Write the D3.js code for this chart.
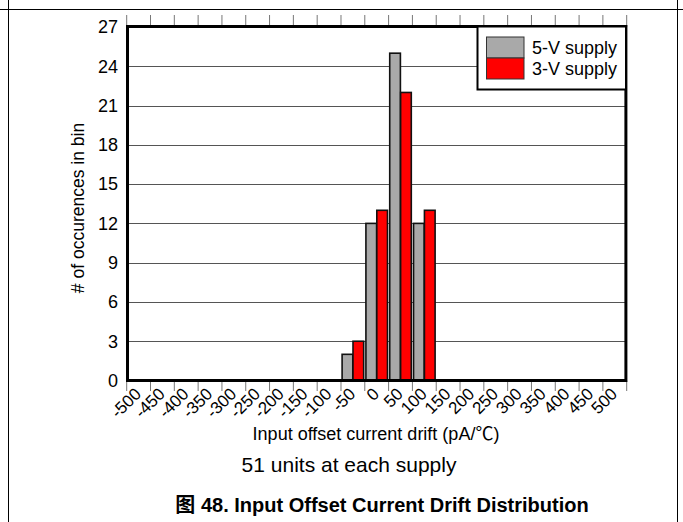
<!DOCTYPE html>
<html><head><meta charset="utf-8">
<script src="https://cdn.jsdelivr.net/npm/d3@7"></script>
<style>body{margin:0;background:#fff}</style>
</head><body>
<svg id="c" width="683" height="522"></svg>
<script>
const categories = [-500,-450,-400,-350,-300,-250,-200,-150,-100,-50,0,50,100,150,200,250,300,350,400,450,500];
const seriesNames = ["5-V supply","3-V supply"];
const supply5V = [0,0,0,0,0,0,0,0,0,2,12,25,12,0,0,0,0,0,0,0,0];
const supply3V = [0,0,0,0,0,0,0,0,0,3,13,22,13,0,0,0,0,0,0,0,0];
const yTicks = [0,3,6,9,12,15,18,21,24,27];
const seriesColors = ["#a9a9a9","#ff0000"];
const xTitle = "Input offset current drift (pA/\u2103)";
const yTitle = "# of occurences in bin";
const note = "51 units at each supply";
const caption = "\u56fe 48. Input Offset Current Drift Distribution";

const svg = d3.select("#c");
const font = "'Liberation Sans', Arial, 'Noto Sans CJK SC', sans-serif";
const L = 126.7, R = 626.7, T = 27, B = 380.5;

// page frame
svg.append("line").attr("x1",0).attr("x2",683).attr("y1",9.5).attr("y2",9.5).attr("stroke","#000");
svg.append("line").attr("x1",8.5).attr("x2",8.5).attr("y1",0).attr("y2",522).attr("stroke","#000");
svg.append("line").attr("x1",677.5).attr("x2",677.5).attr("y1",0).attr("y2",522).attr("stroke","#000");

const x = d3.scaleBand().domain(categories).range([L, R]).padding(0);
const y = d3.scaleLinear().domain([0,27]).range([B, T]);
const bw = x.bandwidth();
const x1 = d3.scaleBand().domain(seriesNames).range([0.9, bw-0.9]).padding(0.02);

// gridlines
svg.append("g").selectAll("line").data(yTicks.filter(d=>d>0&&d<27)).join("line")
  .attr("x1",L).attr("x2",R).attr("y1",d=>Math.round(y(d))+0.5).attr("y2",d=>Math.round(y(d))+0.5)
  .attr("stroke","#555").attr("stroke-width",1);

// bars
const data = [];
categories.forEach((c,i)=>{
  [supply5V, supply3V].forEach((arr,s)=>{ if(arr[i]>0) data.push({c, s, v:arr[i]}); });
});
svg.append("g").selectAll("rect").data(data).join("rect")
  .attr("x",d=>x(d.c)+x1(seriesNames[d.s]))
  .attr("width",x1.bandwidth())
  .attr("y",d=>y(d.v))
  .attr("height",d=>B-y(d.v))
  .attr("fill",d=>seriesColors[d.s])
  .attr("stroke","#111").attr("stroke-width",1.6);

// ticks at band boundaries
const bounds = categories.map(c=>x(c)).concat([R]);
svg.append("g").selectAll("line").data(bounds).join("line")
  .attr("x1",d=>d).attr("x2",d=>d).attr("y1",15).attr("y2",T)
  .attr("stroke","#777").attr("stroke-width",1);
svg.append("g").selectAll("line").data(bounds).join("line")
  .attr("x1",d=>d).attr("x2",d=>d).attr("y1",B).attr("y2",391)
  .attr("stroke","#777").attr("stroke-width",1);

// plot border
svg.append("rect").attr("x",L+0.8).attr("y",T-0.5).attr("width",R-L-1.6).attr("height",B-T+0.5)
  .attr("fill","none").attr("stroke","#000").attr("stroke-width",3);

// y labels
svg.append("g").selectAll("text").data(yTicks).join("text")
  .attr("x",118).attr("y",d=>y(d)).attr("dy","0.35em")
  .attr("text-anchor","end").attr("font-family",font).attr("font-size",18).text(d=>d);

// x labels
svg.append("g").selectAll("text").data(categories).join("text")
  .attr("transform",d=>`translate(${x(d)+bw/2+3.5},395) rotate(-45)`)
  .attr("text-anchor","end").attr("font-family",font).attr("font-size",17).text(d=>d);

// legend
const lg = svg.append("g");
lg.append("rect").attr("x",477.5).attr("y",26.5).attr("width",148.5).attr("height",63)
  .attr("fill","#fff").attr("stroke","#000").attr("stroke-width",2);
seriesNames.forEach((n,i)=>{
  lg.append("rect").attr("x",486.5).attr("y",37+i*21).attr("width",37.5).attr("height",21)
    .attr("fill",seriesColors[i]).attr("stroke","#333").attr("stroke-width",1);
  lg.append("text").attr("x",532).attr("y",54+i*21).attr("font-family",font).attr("font-size",18).text(n);
});

// titles
svg.append("text").attr("x",376).attr("y",440).attr("text-anchor","middle")
  .attr("font-family",font).attr("font-size",18).text(xTitle);
svg.append("text").attr("transform","translate(84,208) rotate(-90)").attr("text-anchor","middle")
  .attr("font-family",font).attr("font-size",17.5).text(yTitle);
svg.append("text").attr("x",349).attr("y",472).attr("text-anchor","middle")
  .attr("font-family",font).attr("font-size",21).text(note);
svg.append("text").attr("x",382).attr("y",512).attr("text-anchor","middle")
  .attr("font-family",font).attr("font-size",20).attr("font-weight","bold").text(caption);
</script>
</body></html>
